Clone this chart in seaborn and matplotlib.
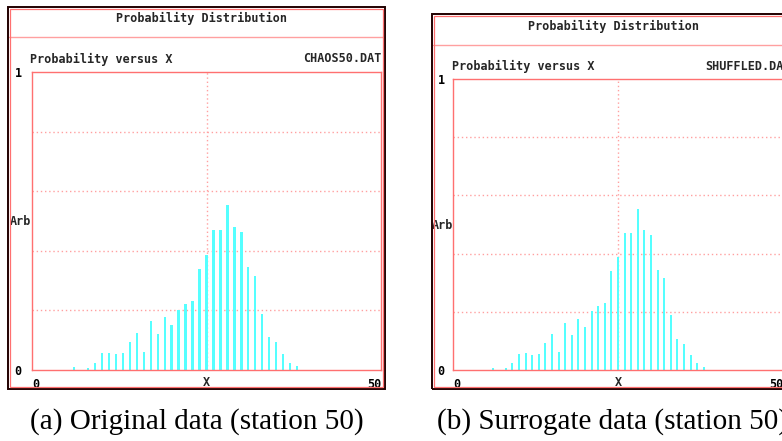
import matplotlib
matplotlib.use("Agg")
import matplotlib.pyplot as plt
import seaborn as sns
import pandas as pd
from matplotlib.patches import Rectangle
from matplotlib.lines import Line2D

# ---------------- data ----------------
x_bins = [6, 8, 9, 10, 11, 12, 13, 14, 15, 16, 17, 18, 19, 20, 21, 22,
          23, 24, 25, 26, 27, 28, 29, 30, 31, 32, 33, 34, 35, 36, 37, 38]
prob_original = [0.009, 0.006, 0.025, 0.057, 0.058, 0.054, 0.056, 0.095,
                 0.124, 0.062, 0.163, 0.122, 0.178, 0.150, 0.202, 0.220,
                 0.232, 0.340, 0.387, 0.470, 0.470, 0.553, 0.481, 0.464,
                 0.346, 0.317, 0.189, 0.110, 0.093, 0.054, 0.025, 0.013]
prob_surrogate = [0.008, 0.006, 0.024, 0.055, 0.057, 0.053, 0.055, 0.094,
                  0.124, 0.061, 0.163, 0.120, 0.176, 0.149, 0.203, 0.220,
                  0.230, 0.340, 0.387, 0.472, 0.472, 0.552, 0.481, 0.464,
                  0.345, 0.316, 0.188, 0.108, 0.090, 0.052, 0.023, 0.010]
window_title = "Probability Distribution"
plot_subtitle = "Probability versus X"
file_names = ["CHAOS50.DAT", "SHUFFLED.DAT"]
captions = ["(a) Original data (station 50)", "(b) Surrogate data (station 50)"]
x_tick_values = [0, 50]
x_tick_labels = ["0", "50"]
y_tick_values = [0, 1]
y_tick_labels = ["0", "1"]
x_label = "X"
y_label = "Arb"

# ---------------- styling ----------------
W, H = 782, 441
BAR = "#55FFFF"
RED = "#FF7070"
PINK = "#FFA0A0"
MONO = dict(family="DejaVu Sans Mono", weight="bold", size=8.5)

sns.set_theme(style="white")
plt.rcParams["font.family"] = ["DejaVu Sans Mono", "DejaVu Sans"]

fig = plt.figure(figsize=(W / 100, H / 100), dpi=100)
fig.patch.set_facecolor("white")


def fx(x):
    return x / W


def fy(y):
    return 1 - y / H


def frame(l, t, r, b):
    fig.patches.append(Rectangle((fx(l), fy(b)), fx(r) - fx(l), fy(t) - fy(b),
                                 transform=fig.transFigure, fill=False,
                                 edgecolor="#200000", lw=1.4, zorder=5))
    fig.patches.append(Rectangle((fx(l + 1.6), fy(b - 1.6)),
                                 fx(r - 1.6) - fx(l + 1.6), fy(t + 1.6) - fy(b - 1.6),
                                 transform=fig.transFigure, fill=False,
                                 edgecolor=RED, lw=0.9, zorder=5))


def panel(values, fname, caption, fr, band_y, title_xy, sub_y, sub_l, fname_x,
          fname_ha, ax_box, ytick_pad, ylab_x, cap_x, cap_ha):
    l, t, r, b = fr
    frame(l, t, r, b)
    fig.lines.append(Line2D([fx(l + 1), fx(r - 1)], [fy(band_y), fy(band_y)],
                            transform=fig.transFigure, color=PINK, lw=1.0))
    fig.text(fx(title_xy[0]), fy(title_xy[1]), window_title, ha="center",
             va="center", **MONO)
    fig.text(fx(sub_l), fy(sub_y), plot_subtitle, ha="left", va="center", **MONO)
    fig.text(fx(fname_x), fy(sub_y), fname, ha=fname_ha, va="center", **MONO)

    al, at, ar, ab = ax_box
    ax = fig.add_axes([fx(al), fy(ab), fx(ar) - fx(al), fy(at) - fy(ab)])
    df = pd.DataFrame({"x": x_bins, "p": values})
    sns.barplot(data=df, x="x", y="p", native_scale=True, width=0.32,
                color=BAR, saturation=1, errorbar=None, linewidth=0, ax=ax)
    ax.set_xlim(0, 50)
    ax.set_ylim(0, 1)
    ax.set_facecolor("white")
    for s in ax.spines.values():
        s.set_color(RED)
        s.set_linewidth(1.0)
        s.set_visible(True)
    ax.set_xticks(x_tick_values)
    ax.set_xticklabels(x_tick_labels, fontdict=MONO)
    xl = ax.get_xticklabels()
    xl[0].set_ha("left")
    xl[-1].set_ha("right")
    ax.set_yticks(y_tick_values)
    ax.set_yticklabels(y_tick_labels, fontdict=MONO)
    ax.set_xticks([25], minor=True)
    ax.set_yticks([0.2, 0.4, 0.6, 0.8], minor=True)
    ax.grid(False)
    ax.grid(which="minor", color=PINK, linestyle=(0, (1, 2)), linewidth=1.0)
    ax.tick_params(which="both", length=0)
    ax.tick_params(axis="x", pad=6, colors="black")
    ax.tick_params(axis="y", pad=ytick_pad, colors="black")
    ax.set_axisbelow(True)
    ax.set_xlabel(x_label, fontdict=MONO)
    ax.xaxis.set_label_coords(0.5, -(383 - ab) / (ab - at))
    ax.xaxis.label.set_va("center")
    ax.set_ylabel(y_label, fontdict=MONO, rotation=0, ha="center", va="center")
    ax.yaxis.set_label_coords((ylab_x - al) / (ar - al), 0.497)

    fig.text(fx(cap_x), fy(422), caption, ha=cap_ha, va="center",
             family="Liberation Serif", size=21, color="black")


panel(prob_original, file_names[0], captions[0],
      fr=(8, 7, 385, 389), band_y=37, title_xy=(201, 18), sub_y=59,
      sub_l=30, fname_x=381, fname_ha="right", ax_box=(32, 72, 381, 370),
      ytick_pad=7.5, ylab_x=20, cap_x=197, cap_ha="center")
panel(prob_surrogate, file_names[1], captions[1],
      fr=(432, 14, 812, 389), band_y=45, title_xy=(614, 26), sub_y=66,
      sub_l=452, fname_x=705, fname_ha="left", ax_box=(453, 79, 783, 370),
      ytick_pad=6.0, ylab_x=442.5, cap_x=437, cap_ha="left")

fig.savefig("out.png", dpi=100, facecolor="white")
